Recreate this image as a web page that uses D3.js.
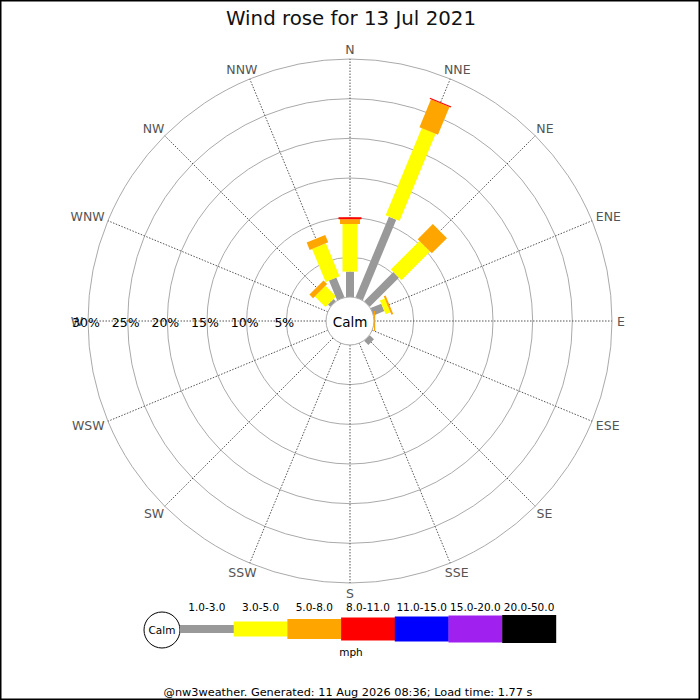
<!DOCTYPE html>
<html>
<head>
<meta charset="utf-8">
<script src="https://cdn.jsdelivr.net/npm/d3@7/dist/d3.min.js"></script>
<style>
  body { margin: 0; background: #fff; }
  svg { display: block; font-family: "DejaVu Sans", sans-serif; }
</style>
</head>
<body>
<svg id="chart" width="700" height="700"></svg>
<script>
// ---------- DATA ----------
const directions = ["N","NNE","NE","ENE","E","ESE","SE","SSE","S","SSW","SW","WSW","W","WNW","NW","NNW"];
const bands = ["1.0-3.0","3.0-5.0","5.0-8.0","8.0-11.0","11.0-15.0","15.0-20.0","20.0-50.0"];
// percentage of time per direction for each speed band (mph)
const band1to3   = [3.2, 11.0, 5.2, 1.45, 0,    0, 0.75, 0, 0, 0, 0, 0, 0, 0, 0.4, 2.7];
const band3to5   = [6.0, 11.9, 5.1, 0.65, 0,    0, 0,    0, 0, 0, 0, 0, 0, 0, 1.9, 4.5];
const band5to8   = [0.6, 3.8,  2.7, 0.25, 0.15, 0, 0,    0, 0, 0, 0, 0, 0, 0, 0.65, 1.0];
const band8to11  = [0.25, 0.15, 0,  0,    0,    0, 0,    0, 0, 0, 0, 0, 0, 0, 0,   0];
const band11to15 = [0,0,0,0,0,0,0,0,0,0,0,0,0,0,0,0];
const band15to20 = [0,0,0,0,0,0,0,0,0,0,0,0,0,0,0,0];
const band20to50 = [0,0,0,0,0,0,0,0,0,0,0,0,0,0,0,0];
const series = [band1to3, band3to5, band5to8, band8to11, band11to15, band15to20, band20to50];
const ringTicks = [5, 10, 15, 20, 25, 30];
const ringLabels = ["5%", "10%", "15%", "20%", "25%", "30%"];
const titleText = "Wind rose for 13 Jul 2021";
const unitText = "mph";
const footerText = "@nw3weather. Generated: 11 Aug 2026 08:36; Load time: 1.77 s";

// ---------- STYLE ----------
const bandColors = ["#999999","#ffff00","#ffa500","#ff0000","#0000ff","#a020f0","#000000"];
const bandWidths = [8, 15, 20, 23, 25, 27, 28];
const cx = 350, cy = 321, calmR = 24, outerR = 262;

const svg = d3.select("#chart");

// frame
svg.append("rect").attr("x", 0.75).attr("y", 0.75).attr("width", 698.5).attr("height", 698.5)
  .attr("fill", "none").attr("stroke", "#000").attr("stroke-width", 1.5);

// title
svg.append("text").attr("x", 351).attr("y", 25).attr("text-anchor", "middle")
  .attr("font-size", 19.8).attr("fill", "#111").text(titleText);

const r = d3.scaleLinear().domain([0, 30]).range([calmR, outerR]);
const angle = d3.scaleLinear().domain([0, directions.length]).range([0, 360]);
const rad = a => a * Math.PI / 180;

const g = svg.append("g").attr("transform", `translate(${cx},${cy})`);

// rings
g.selectAll("circle.ring").data(ringTicks).join("circle")
  .attr("class", "ring").attr("r", d => r(d))
  .attr("fill", "none").attr("stroke", "#aaaaaa").attr("stroke-width", 1);

// direction lines
g.selectAll("line.dir").data(directions).join("line")
  .attr("class", "dir")
  .attr("x1", (d, i) => calmR * Math.sin(rad(angle(i))))
  .attr("y1", (d, i) => -calmR * Math.cos(rad(angle(i))))
  .attr("x2", (d, i) => outerR * Math.sin(rad(angle(i))))
  .attr("y2", (d, i) => -outerR * Math.cos(rad(angle(i))))
  .attr("stroke", "#555").attr("stroke-width", 1).attr("stroke-dasharray", "1.5,1.5");

// direction labels: box edge placed just outside the outer ring
const labR = 267;
const dirLabs = g.selectAll("text.dirlab").data(directions).join("text")
  .attr("class", "dirlab")
  .attr("text-anchor", "middle").attr("dominant-baseline", "central")
  .attr("font-size", 12.5).attr("fill", "#555").text(d => d);
dirLabs.each(function(d, i) {
  const bb = this.getBBox();
  const s = Math.sin(rad(angle(i))), c = Math.cos(rad(angle(i)));
  const hw = bb.width / 2, hh = 5;
  d3.select(this)
    .attr("x", labR * s + hw * s)
    .attr("y", -(labR * c + hh * c));
});

// bars (stacked)
const stacked = directions.map((dir, i) => {
  let cum = 0;
  return series.map((s, b) => {
    const seg = { dir: i, band: b, start: cum, end: cum + s[i] };
    cum += s[i];
    return seg;
  }).filter(seg => seg.end > seg.start);
});
const barG = g.selectAll("g.bar").data(stacked).join("g")
  .attr("class", "bar")
  .attr("transform", (d, i) => `rotate(${angle(i)})`);
barG.selectAll("rect").data(d => d).join("rect")
  .attr("x", d => -bandWidths[d.band] / 2)
  .attr("width", d => bandWidths[d.band])
  .attr("y", d => -r(d.end))
  .attr("height", d => r(d.end) - r(d.start))
  .attr("fill", d => bandColors[d.band]);

// calm circle
g.append("circle").attr("r", calmR).attr("fill", "#fff").attr("stroke", "#aaa").attr("stroke-width", 1);
g.append("text").attr("x", 0).attr("y", 1).attr("text-anchor", "middle").attr("dominant-baseline", "central")
  .attr("font-size", 13.5).attr("fill", "#000").text("Calm");

// ring labels along the west axis
g.selectAll("text.ringlab").data(ringTicks).join("text")
  .attr("class", "ringlab")
  .attr("x", d => -r(d) - 2).attr("y", 1)
  .attr("text-anchor", "middle").attr("dominant-baseline", "central")
  .attr("font-size", 12.5).attr("fill", "#000")
  .text((d, i) => ringLabels[i]);

// legend
const legY = 629, legX0 = 180, segW = 53.7;
const legend = svg.append("g");
legend.append("circle").attr("cx", 162).attr("cy", legY + 1).attr("r", 18)
  .attr("fill", "#fff").attr("stroke", "#000").attr("stroke-width", 1);
legend.append("text").attr("x", 162).attr("y", legY + 1).attr("text-anchor", "middle")
  .attr("dominant-baseline", "central").attr("font-size", 10.5).text("Calm");
const lx = d3.scaleLinear().domain([0, bands.length]).range([legX0, legX0 + segW * bands.length]);
legend.selectAll("rect").data(bands).join("rect")
  .attr("x", (d, i) => lx(i)).attr("width", segW + 0.3)
  .attr("y", (d, i) => legY - bandWidths[i] / 2).attr("height", (d, i) => bandWidths[i])
  .attr("fill", (d, i) => bandColors[i]);
legend.selectAll("text.blab").data(bands).join("text")
  .attr("class", "blab")
  .attr("x", (d, i) => lx(i) + segW / 2).attr("y", 611)
  .attr("text-anchor", "middle").attr("font-size", 10.5).attr("fill", "#000").text(d => d);
legend.append("text").attr("x", 351).attr("y", 656).attr("text-anchor", "middle")
  .attr("font-size", 10.5).text(unitText);

// footer
svg.append("text").attr("x", 348).attr("y", 696).attr("text-anchor", "middle")
  .attr("font-size", 11.3).attr("fill", "#000").text(footerText);
</script>
</body>
</html>
